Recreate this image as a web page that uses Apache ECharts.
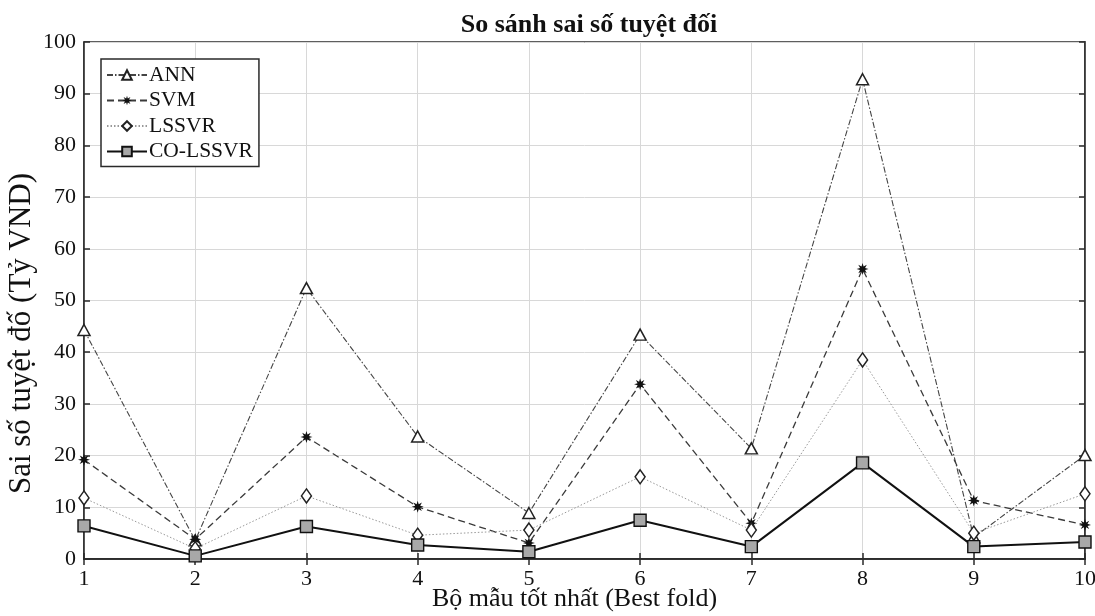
<!DOCTYPE html>
<html>
<head>
<meta charset="utf-8">
<script src="https://cdn.jsdelivr.net/npm/echarts@6/dist/echarts.min.js"></script>
<style>html,body{margin:0;padding:0;background:#fff}#c{width:1095px;height:616px}</style>
</head>
<body>
<div id="c"></div>
<script>
const folds = [1, 2, 3, 4, 5, 6, 7, 8, 9, 10];
const ann = [44.3, 3.6, 52.4, 23.7, 8.9, 43.4, 21.4, 92.8, 4.2, 20.1];
const svm = [19.2, 3.8, 23.6, 10.1, 3.1, 33.8, 6.9, 56.1, 11.3, 6.6];
const lssvr = [11.8, 2.0, 12.2, 4.6, 5.6, 15.9, 5.6, 38.5, 5.0, 12.6];
const coLssvr = [6.4, 0.6, 6.3, 2.7, 1.4, 7.5, 2.4, 18.6, 2.4, 3.3];
const seriesNames = ['ANN', 'SVM', 'LSSVR', 'CO-LSSVR'];
const yTicks = [0, 10, 20, 30, 40, 50, 60, 70, 80, 90, 100];

const pair = arr => folds.map((f, i) => [f, arr[i]]);
const starPath = 'path://M20 10 L14.16 11.72 L17.07 17.07 L11.72 14.16 L10 20 L8.28 14.16 L2.93 17.07 L5.84 11.72 L0 10 L5.84 8.28 L2.93 2.93 L8.28 5.84 L10 0 L11.72 5.84 L17.07 2.93 L14.16 8.28 Z';
const serif = '"Liberation Serif", "DejaVu Serif", serif';
const axisCol = '#2a2a2a';

const chart = echarts.init(document.getElementById('c'), null, {renderer: 'canvas'});
chart.setOption({
  animation: false,
  backgroundColor: '#fff',
  title: {
    text: 'So sánh sai số tuyệt đối',
    left: 584, top: 7, textAlign: 'center',
    textStyle: {fontFamily: serif, fontWeight: 'bold', fontSize: 26, color: '#111'}
  },
  grid: {left: 84, right: 10, top: 42, bottom: 57, containLabel: false, outerBoundsMode: 'none',
    show: true, borderColor: axisCol, borderWidth: 1.5, backgroundColor: 'transparent'},
  legend: {
    orient: 'vertical', left: 101, top: 59,
    data: seriesNames,
    backgroundColor: '#fff', borderColor: axisCol, borderWidth: 1.5, borderRadius: 0,
    padding: [5, 6, 4, 5], itemGap: 3.5, itemWidth: 40, itemHeight: 12,
    textStyle: {fontFamily: serif, fontSize: 21.5, color: '#111', padding: [0, 0, 0, -3]}
  },
  xAxis: [{
    type: 'value', min: 1, max: 10, interval: 1,
    name: 'Bộ mẫu tốt nhất (Best fold)', nameLocation: 'middle', nameGap: 27, nameMoveOverlap: false,
    nameTextStyle: {fontFamily: serif, fontSize: 26, color: '#111', padding: [0, 20, 0, 0]},
    axisLine: {lineStyle: {color: axisCol, width: 1.5}},
    axisTick: {inside: true, length: 6, lineStyle: {color: axisCol, width: 1.5}},
    axisLabel: {fontFamily: serif, fontSize: 22, color: '#111', margin: 9},
    splitLine: {show: true, lineStyle: {color: '#d8d8d8', width: 1}}
  }, {
    type: 'value', min: 1, max: 10, interval: 1, position: 'top',
    axisLine: {lineStyle: {color: axisCol, width: 1.5}},
    axisTick: {inside: true, length: 6, lineStyle: {color: axisCol, width: 1.5}},
    axisLabel: {show: false}, splitLine: {show: false}
  }],
  yAxis: [{
    type: 'value', min: 0, max: 100, interval: 10,
    name: 'Sai số tuyệt đố (Tỷ VND)', nameLocation: 'middle', nameGap: 47, nameMoveOverlap: false,
    nameTextStyle: {fontFamily: serif, fontSize: 31, color: '#111', padding: [0, 66, 0, 0]},
    axisLine: {show: true, lineStyle: {color: axisCol, width: 1.5}},
    axisTick: {show: true, inside: true, length: 6, lineStyle: {color: axisCol, width: 1.5}},
    axisLabel: {fontFamily: serif, fontSize: 22, color: '#111', margin: 8,
      formatter: v => yTicks.includes(v) ? String(v) : ''},
    splitLine: {show: true, lineStyle: {color: '#d8d8d8', width: 1}}
  }, {
    type: 'value', min: 0, max: 100, interval: 10, position: 'right',
    axisLine: {show: true, lineStyle: {color: axisCol, width: 1.5}},
    axisTick: {show: true, inside: true, length: 6, lineStyle: {color: axisCol, width: 1.5}},
    axisLabel: {show: false}, splitLine: {show: false}
  }],
  series: [{
    name: 'ANN', type: 'line', data: pair(ann), z: 3,
    symbol: 'triangle', symbolSize: [12, 11],
    itemStyle: {color: '#fff', borderColor: '#222', borderWidth: 1.5},
    lineStyle: {color: '#444', width: 1.1, type: [6, 2, 1.5, 2]}
  }, {
    name: 'SVM', type: 'line', data: pair(svm), z: 4,
    symbol: starPath, symbolSize: 12,
    itemStyle: {color: '#111', borderColor: '#111', borderWidth: 0},
    lineStyle: {color: '#3a3a3a', width: 1.3, type: [7, 4]}
  }, {
    name: 'LSSVR', type: 'line', data: pair(lssvr), z: 5,
    symbol: 'diamond', symbolSize: [10, 14],
    itemStyle: {color: '#fff', borderColor: '#222', borderWidth: 1.5},
    lineStyle: {color: '#999', width: 1, type: [1.5, 2]}
  }, {
    name: 'CO-LSSVR', type: 'line', data: pair(coLssvr), z: 6,
    symbol: 'rect', symbolSize: 12,
    itemStyle: {color: '#a8a8a8', borderColor: '#111', borderWidth: 1.4},
    lineStyle: {color: '#111', width: 2, type: 'solid'}
  }]
});
</script>
</body>
</html>
